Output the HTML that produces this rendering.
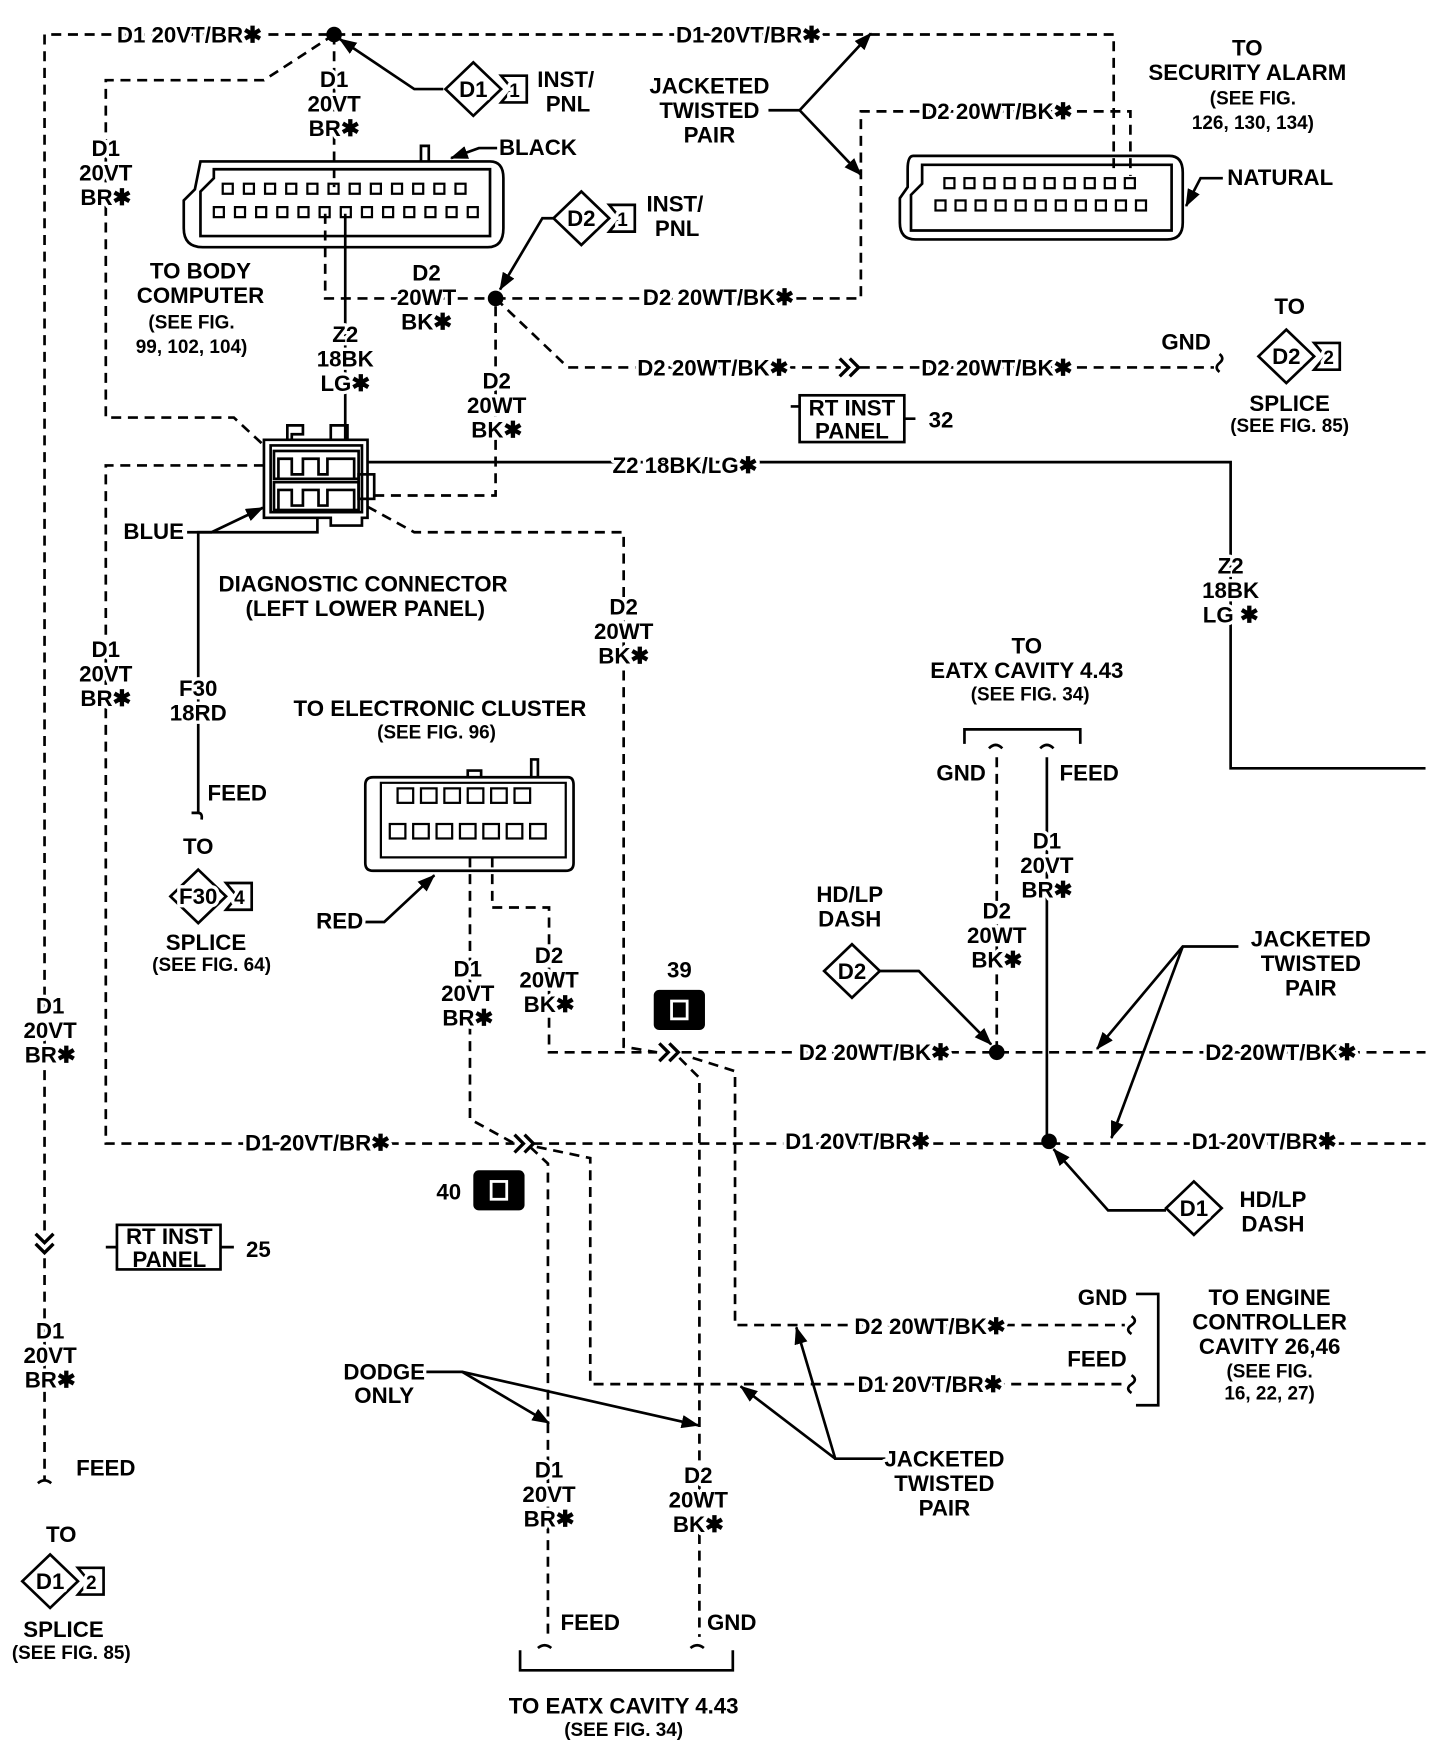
<!DOCTYPE html>
<html><head><meta charset="utf-8"><style>
html,body{margin:0;padding:0;background:#fff}
svg{display:block}
text{font-family:"Liberation Sans Narrow","Liberation Sans",sans-serif;font-weight:bold;font-size:20px;fill:#000;text-anchor:middle;stroke:#fff;stroke-width:6px;paint-order:stroke;stroke-linejoin:round}
text.s{font-size:17px}
.d{fill:none;stroke:#000;stroke-width:2.4;stroke-dasharray:9 6}
.l{fill:none;stroke:#000;stroke-width:2.4}
.t{fill:none;stroke:#000;stroke-width:3}
</style></head><body>
<svg width="1440" height="1746" viewBox="0 0 1293 1568" preserveAspectRatio="none" xmlns="http://www.w3.org/2000/svg">
<defs><marker id="b" markerWidth="16" markerHeight="12" refX="15" refY="6" orient="auto" markerUnits="userSpaceOnUse" viewBox="0 0 16 12"><path d="M0,0 L16,6 L0,12 Z" fill="#000"/></marker></defs>

<path class="d" d="M40,1105 V31 H1000 V155"/>
<path class="d" d="M300,31 L237,72 H95 V375 H210 L237,400"/>
<path class="d" d="M300,31 V168"/>
<path class="d" d="M292,192 V268 H445"/>
<path class="d" d="M445,268 H773 V100 H1015 V158"/>
<path class="d" d="M445,268 L510,330 H755"/>
<path class="d" d="M772,330 H1090"/>
<path class="d" d="M445,275 V445 H330"/>
<path class="d" d="M237,418 H95 V1027 H462"/>
<path class="d" d="M330,455 L372,478 H560 V940 L590,945"/>
<path class="d" d="M422,770 V1005 L462,1027"/>
<path class="d" d="M442,770 V815 H493 V945 H590"/>
<path class="d" d="M612,945 H1280"/>
<path class="d" d="M610,950 L628,968 V1470"/>
<path class="d" d="M622,950 L660,962 V1190 H1010"/>
<path class="d" d="M478,1027 H1280"/>
<path class="d" d="M476,1030 L492,1045 V1470"/>
<path class="d" d="M482,1030 L530,1040 V1243 H1010"/>
<path class="d" d="M895,680 V945"/>
<path class="d" d="M40,1130 V1330"/>
<path class="l" d="M310,192 V395"/>
<path class="l" d="M330,415 H1105 V690 H1280"/>
<path class="l" d="M285,465 V478 H178 V730"/>
<path class="l" d="M940,680 V1025"/>
<path class="t" d="M754,322 L762,330 L754,338 M763,322 L771,330 L763,338"/>
<path class="t" d="M592,937 L600,945 L592,953 M601,937 L609,945 L601,953"/>
<path class="t" d="M462,1019 L470,1027 L462,1035 M471,1019 L479,1027 L471,1035"/>
<path class="t" d="M32,1108 L40,1116 L48,1108 M32,1117 L40,1125 L48,1117"/>
<path class="l" d="M1095,318 q5,4 0,8 q-5,4 0,8"/>
<path class="l" d="M172,730 H178 q4,0 3,6"/>
<path class="l" d="M34,1332 q6,-5 12,0"/>
<path class="l" d="M1016,1182 q6,4 0,8 q-6,4 0,8"/>
<path class="l" d="M1016,1235 q6,4 0,8 q-6,4 0,8"/>
<path class="l" d="M483,1480 q6,-5 12,0 M620,1480 q6,-5 12,0"/>
<path class="l" d="M888,672 q6,-6 12,0 M934,672 q6,-6 12,0"/>
<path class="l" d="M866,668 V655 H970 V668"/>
<path class="l" d="M1020,1162 H1040 V1262 H1020"/>
<path class="l" d="M467,1482 V1500 H658 V1482"/>
<circle cx="300" cy="31" r="7"/><circle cx="445" cy="268" r="7"/>
<circle cx="895" cy="945" r="7"/><circle cx="942" cy="1025" r="7"/>
<path class="l" d="M398,80 H372 L305,35" marker-end="url(#b)"/>
<path class="l" d="M500,196 H487 L449,260" marker-end="url(#b)"/>
<path class="l" d="M450,133 H430 L405,142" marker-end="url(#b)"/>
<path class="l" d="M690,99 H718 L782,30" marker-end="url(#b)"/>
<path class="l" d="M718,99 L773,157" marker-end="url(#b)"/>
<path class="l" d="M1098,160 H1078 L1065,185" marker-end="url(#b)"/>
<path class="l" d="M168,478 H190 L236,456" marker-end="url(#b)"/>
<path class="l" d="M327,828 H345 L390,786" marker-end="url(#b)"/>
<path class="l" d="M790,872 H825 L890,938" marker-end="url(#b)"/>
<path class="l" d="M1047,1087 H995 L946,1032" marker-end="url(#b)"/>
<path class="l" d="M1112,850 H1062 L985,942" marker-end="url(#b)"/>
<path class="l" d="M1062,850 L998,1022" marker-end="url(#b)"/>
<path class="l" d="M795,1310 H750 L715,1192" marker-end="url(#b)"/>
<path class="l" d="M750,1310 L665,1245" marker-end="url(#b)"/>
<path class="l" d="M380,1232 H415 L493,1278" marker-end="url(#b)"/>
<path class="l" d="M415,1232 L627,1280" marker-end="url(#b)"/>

<path class="l" d="M180,145 H440 Q452,145 452,160 V205 Q452,222 438,222 H182 Q165,222 165,205 V180 L175,170 Z"/>
<path class="l" d="M192,152 H440 V212 H180 V172 L192,160 Z" stroke-width="2"/>
<path class="l" d="M378,145 V131 H385 V145"/>
<g fill="none" stroke="#000" stroke-width="2">
<rect x="200" y="165" width="9" height="9"/><rect x="219" y="165" width="9" height="9"/><rect x="238" y="165" width="9" height="9"/><rect x="257" y="165" width="9" height="9"/><rect x="276" y="165" width="9" height="9"/><rect x="295" y="165" width="9" height="9"/><rect x="314" y="165" width="9" height="9"/><rect x="333" y="165" width="9" height="9"/><rect x="352" y="165" width="9" height="9"/><rect x="371" y="165" width="9" height="9"/><rect x="390" y="165" width="9" height="9"/><rect x="409" y="165" width="9" height="9"/>
<rect x="192" y="186" width="9" height="9"/><rect x="211" y="186" width="9" height="9"/><rect x="230" y="186" width="9" height="9"/><rect x="249" y="186" width="9" height="9"/><rect x="268" y="186" width="9" height="9"/><rect x="287" y="186" width="9" height="9"/><rect x="306" y="186" width="9" height="9"/><rect x="325" y="186" width="9" height="9"/><rect x="344" y="186" width="9" height="9"/><rect x="363" y="186" width="9" height="9"/><rect x="382" y="186" width="9" height="9"/><rect x="401" y="186" width="9" height="9"/><rect x="420" y="186" width="9" height="9"/>
</g>
<path class="l" d="M820,140 H1050 Q1062,140 1062,155 V200 Q1062,215 1048,215 H822 Q808,215 808,200 V178 L815,168 V152 Q815,140 820,140 Z"/>
<path class="l" d="M828,148 H1052 V207 H818 V175 L828,165 Z" stroke-width="2"/>
<g fill="none" stroke="#000" stroke-width="2">
<rect x="848" y="160" width="9" height="9"/><rect x="866" y="160" width="9" height="9"/><rect x="884" y="160" width="9" height="9"/><rect x="902" y="160" width="9" height="9"/><rect x="920" y="160" width="9" height="9"/><rect x="938" y="160" width="9" height="9"/><rect x="956" y="160" width="9" height="9"/><rect x="974" y="160" width="9" height="9"/><rect x="992" y="160" width="9" height="9"/><rect x="1010" y="160" width="9" height="9"/>
<rect x="840" y="180" width="9" height="9"/><rect x="858" y="180" width="9" height="9"/><rect x="876" y="180" width="9" height="9"/><rect x="894" y="180" width="9" height="9"/><rect x="912" y="180" width="9" height="9"/><rect x="930" y="180" width="9" height="9"/><rect x="948" y="180" width="9" height="9"/><rect x="966" y="180" width="9" height="9"/><rect x="984" y="180" width="9" height="9"/><rect x="1002" y="180" width="9" height="9"/><rect x="1020" y="180" width="9" height="9"/>
</g>
<g fill="none" stroke="#000" stroke-width="2.4">
<path d="M237,395 H330 V465 H325 V472 H297 V465 H237 Z"/>
<path d="M243,400 H325 V460 H243 Z"/>
<path d="M258,395 V382 H272 V390 H262 V395 M297,395 V382 H312 V395"/>
<rect x="246" y="405" width="76" height="25"/><rect x="246" y="433" width="76" height="25"/>
<path d="M250,430 V412 H262 V426 H272 V412 H286 V426 H294 V412 H318 V430"/>
<path d="M250,458 V440 H262 V454 H272 V440 H286 V454 H294 V440 H318 V458"/>
<rect x="322" y="426" width="14" height="22"/>
</g>
<g fill="none" stroke="#000" stroke-width="2.4">
<path d="M335,698 H510 Q515,698 515,705 V775 Q515,782 508,782 H335 Q328,782 328,775 V705 Q328,698 335,698 Z"/>
<path d="M342,703 H508 V770 H342 Z" stroke-width="2"/>
<path d="M420,698 V692 H432 V698 M477,698 V682 H483 V698"/>
</g>
<g fill="none" stroke="#000" stroke-width="2">
<rect x="357" y="708" width="14" height="13"/><rect x="378" y="708" width="14" height="13"/><rect x="399" y="708" width="14" height="13"/><rect x="420" y="708" width="14" height="13"/><rect x="441" y="708" width="14" height="13"/><rect x="462" y="708" width="14" height="13"/>
<rect x="350" y="740" width="14" height="13"/><rect x="371" y="740" width="14" height="13"/><rect x="392" y="740" width="14" height="13"/><rect x="413" y="740" width="14" height="13"/><rect x="434" y="740" width="14" height="13"/><rect x="455" y="740" width="14" height="13"/><rect x="476" y="740" width="14" height="13"/>
</g>
<rect x="587" y="889" width="46" height="36" rx="5" fill="#000"/><rect x="603" y="899" width="14" height="16" fill="none" stroke="#fff" stroke-width="2.5"/>
<rect x="425" y="1051" width="46" height="36" rx="5" fill="#000"/><rect x="441" y="1061" width="14" height="16" fill="none" stroke="#fff" stroke-width="2.5"/>
<rect x="718" y="355" width="94" height="42" fill="none" stroke="#000" stroke-width="2.4"/>
<path class="l" d="M710,365 H718 M812,376 H822"/>
<rect x="105" y="1100" width="93" height="40" fill="none" stroke="#000" stroke-width="2.4"/>
<path class="l" d="M95,1120 H105 M198,1120 H210"/>
<g fill="#fff" stroke="#000" stroke-width="2.4">
<path d="M425,56 L450,80 L425,104 L400,80 Z"/><path d="M450,68 H473 V92 H450 L460,80 Z"/>
<path d="M522,172 L547,196 L522,220 L497,196 Z"/><path d="M547,184 H570 V208 H547 L557,196 Z"/>
<path d="M1155,296 L1180,320 L1155,344 L1130,320 Z"/><path d="M1180,308 H1203 V332 H1180 L1190,320 Z"/>
<path d="M178,781 L203,805 L178,829 L153,805 Z"/><path d="M203,793 H226 V817 H203 L213,805 Z"/>
<path d="M765,848 L790,872 L765,896 L740,872 Z"/>
<path d="M1072,1061 L1097,1085 L1072,1109 L1047,1085 Z"/>
<path d="M45,1396 L70,1420 L45,1444 L20,1420 Z"/><path d="M70,1408 H93 V1432 H70 L80,1420 Z"/>
</g>
<text x="425" y="87">D1</text><text x="462" y="87" class="s">1</text>
<text x="522" y="203">D2</text><text x="559" y="203" class="s">1</text>
<text x="1155" y="327">D2</text><text x="1193" y="327" class="s">2</text>
<text x="178" y="812">F30</text><text x="215" y="812" class="s">4</text>
<text x="765" y="879">D2</text><text x="1072" y="1092">D1</text>
<text x="45" y="1427">D1</text><text x="82" y="1427" class="s">2</text>

<text x="170" y="38">D1 20VT/BR✱</text><text x="672" y="38">D1 20VT/BR✱</text>
<text x="508" y="78">INST/</text><text x="510" y="100">PNL</text>
<text x="606" y="190">INST/</text><text x="608" y="212">PNL</text>
<text x="637" y="84">JACKETED</text><text x="637" y="106">TWISTED</text><text x="637" y="128">PAIR</text>
<text x="1120" y="50">TO</text><text x="1120" y="72">SECURITY ALARM</text><text x="1125" y="94" class="s">(SEE FIG.</text><text x="1125" y="116" class="s">126, 130, 134)</text>
<text x="1102" y="166" style="text-anchor:start">NATURAL</text>
<text x="483" y="139">BLACK</text>
<text x="300" y="78">D1</text><text x="300" y="100">20VT</text><text x="300" y="122">BR✱</text>
<text x="95" y="140">D1</text><text x="95" y="162">20VT</text><text x="95" y="184">BR✱</text>
<text x="895" y="107">D2 20WT/BK✱</text>
<text x="645" y="274">D2 20WT/BK✱</text>
<text x="383" y="252">D2</text><text x="383" y="274">20WT</text><text x="383" y="296">BK✱</text>
<text x="180" y="250">TO BODY</text><text x="180" y="272">COMPUTER</text><text x="172" y="295" class="s">(SEE FIG.</text><text x="172" y="317" class="s">99, 102, 104)</text>
<text x="310" y="307">Z2</text><text x="310" y="329">18BK</text><text x="310" y="351">LG✱</text>
<text x="446" y="349">D2</text><text x="446" y="371">20WT</text><text x="446" y="393">BK✱</text>
<text x="640" y="337">D2 20WT/BK✱</text><text x="895" y="337">D2 20WT/BK✱</text>
<text x="1065" y="314">GND</text>
<text x="1158" y="282">TO</text><text x="1158" y="369">SPLICE</text><text x="1158" y="388" class="s">(SEE FIG. 85)</text>
<text x="765" y="373" style="stroke-width:0">RT INST</text><text x="765" y="394" style="stroke-width:0">PANEL</text><text x="845" y="384">32</text>
<text x="615" y="425">Z2 18BK/LG✱</text>
<text x="1105" y="515">Z2</text><text x="1105" y="537">18BK</text><text x="1105" y="559">LG ✱</text>
<text x="138" y="484">BLUE</text>
<text x="326" y="531">DIAGNOSTIC CONNECTOR</text><text x="328" y="553">(LEFT LOWER PANEL)</text>
<text x="560" y="552">D2</text><text x="560" y="574">20WT</text><text x="560" y="596">BK✱</text>
<text x="95" y="590">D1</text><text x="95" y="612">20VT</text><text x="95" y="634">BR✱</text>
<text x="178" y="625">F30</text><text x="178" y="647">18RD</text>
<text x="213" y="719">FEED</text><text x="178" y="767">TO</text>
<text x="185" y="853">SPLICE</text><text x="190" y="872" class="s">(SEE FIG. 64)</text>
<text x="395" y="643">TO ELECTRONIC CLUSTER</text><text x="392" y="663" class="s">(SEE FIG. 96)</text>
<text x="305" y="834">RED</text>
<text x="922" y="587">TO</text><text x="922" y="609">EATX CAVITY 4.43</text><text x="925" y="629" class="s">(SEE FIG. 34)</text>
<text x="863" y="701">GND</text><text x="978" y="701">FEED</text>
<text x="940" y="762">D1</text><text x="940" y="784">20VT</text><text x="940" y="806">BR✱</text>
<text x="895" y="825">D2</text><text x="895" y="847">20WT</text><text x="895" y="869">BK✱</text>
<text x="763" y="810">HD/LP</text><text x="763" y="832">DASH</text>
<text x="1177" y="850">JACKETED</text><text x="1177" y="872">TWISTED</text><text x="1177" y="894">PAIR</text>
<text x="610" y="878">39</text><text x="403" y="1077">40</text>
<text x="420" y="877">D1</text><text x="420" y="899">20VT</text><text x="420" y="921">BR✱</text>
<text x="493" y="865">D2</text><text x="493" y="887">20WT</text><text x="493" y="909">BK✱</text>
<text x="785" y="952">D2 20WT/BK✱</text><text x="1150" y="952">D2 20WT/BK✱</text>
<text x="285" y="1033">D1 20VT/BR✱</text><text x="770" y="1032">D1 20VT/BR✱</text><text x="1135" y="1032">D1 20VT/BR✱</text>
<text x="1143" y="1084">HD/LP</text><text x="1143" y="1106">DASH</text>
<text x="45" y="910">D1</text><text x="45" y="932">20VT</text><text x="45" y="954">BR✱</text>
<text x="152" y="1117" style="stroke-width:0">RT INST</text><text x="152" y="1138" style="stroke-width:0">PANEL</text><text x="232" y="1129">25</text>
<text x="45" y="1202">D1</text><text x="45" y="1224">20VT</text><text x="45" y="1246">BR✱</text>
<text x="95" y="1325">FEED</text><text x="55" y="1385">TO</text>
<text x="57" y="1470">SPLICE</text><text x="64" y="1490" class="s">(SEE FIG. 85)</text>
<text x="990" y="1172">GND</text><text x="985" y="1227">FEED</text>
<text x="835" y="1198">D2 20WT/BK✱</text><text x="835" y="1250">D1 20VT/BR✱</text>
<text x="1140" y="1172">TO ENGINE</text><text x="1140" y="1194">CONTROLLER</text><text x="1140" y="1216">CAVITY 26,46</text><text x="1140" y="1237" class="s">(SEE FIG.</text><text x="1140" y="1257" class="s">16, 22, 27)</text>
<text x="848" y="1317">JACKETED</text><text x="848" y="1339">TWISTED</text><text x="848" y="1361">PAIR</text>
<text x="345" y="1239">DODGE</text><text x="345" y="1260">ONLY</text>
<text x="493" y="1327">D1</text><text x="493" y="1349">20VT</text><text x="493" y="1371">BR✱</text>
<text x="627" y="1332">D2</text><text x="627" y="1354">20WT</text><text x="627" y="1376">BK✱</text>
<text x="530" y="1464">FEED</text><text x="657" y="1464">GND</text>
<text x="560" y="1539">TO EATX CAVITY 4.43</text><text x="560" y="1559" class="s">(SEE FIG. 34)</text>
</svg>
</body></html>
